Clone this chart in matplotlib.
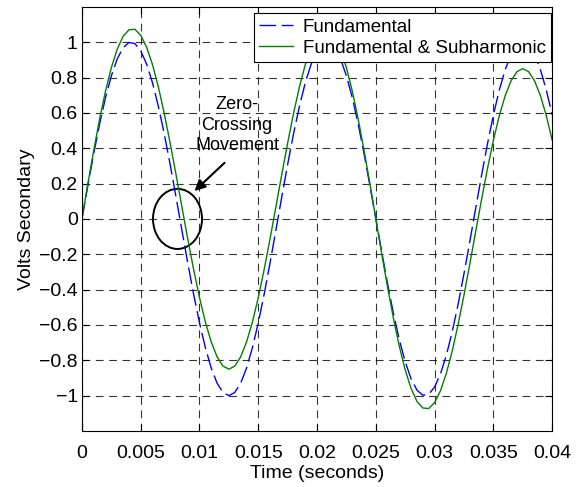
import numpy as np
import matplotlib.pyplot as plt
import matplotlib.patches as mpatches

plt.rcParams['font.family'] = ['Liberation Sans', 'DejaVu Sans']

# czas co 0.5 ms
t = np.arange(81) * 0.0005

fundamental = [
    0.0, 0.187, 0.368, 0.536, 0.685, 0.809, 0.905, 0.969, 0.998, 0.992,
    0.951, 0.876, 0.771, 0.637, 0.482, 0.309, 0.125, -0.063, -0.249, -0.426,
    -0.588, -0.729, -0.844, -0.930, -0.982, -1.0, -0.982, -0.930, -0.844, -0.729,
    -0.588, -0.426, -0.249, -0.063, 0.125, 0.309, 0.482, 0.637, 0.771, 0.876,
    0.951, 0.992, 0.998, 0.969, 0.905, 0.809, 0.685, 0.536, 0.368, 0.187,
    0.0, -0.187, -0.368, -0.536, -0.685, -0.809, -0.905, -0.969, -0.998, -0.992,
    -0.951, -0.876, -0.771, -0.637, -0.482, -0.309, -0.125, 0.063, 0.249, 0.426,
    0.588, 0.729, 0.844, 0.930, 0.982, 1.0, 0.982, 0.930, 0.844, 0.729,
    0.588,
]

fund_sub = [
    0.0, 0.197, 0.387, 0.564, 0.722, 0.855, 0.960, 1.033, 1.070, 1.073,
    1.039, 0.972, 0.873, 0.747, 0.597, 0.430, 0.252, 0.069, -0.113, -0.286,
    -0.445, -0.584, -0.697, -0.781, -0.833, -0.850, -0.833, -0.781, -0.697, -0.584,
    -0.445, -0.286, -0.113, 0.069, 0.252, 0.430, 0.597, 0.747, 0.873, 0.972,
    1.039, 1.073, 1.070, 1.033, 0.960, 0.855, 0.722, 0.564, 0.387, 0.197,
    0.0, -0.197, -0.387, -0.564, -0.722, -0.855, -0.960, -1.033, -1.070, -1.073,
    -1.039, -0.972, -0.873, -0.747, -0.597, -0.430, -0.252, -0.069, 0.113, 0.286,
    0.445, 0.584, 0.697, 0.781, 0.833, 0.850, 0.833, 0.781, 0.697, 0.584,
    0.445,
]

xticks = [0, 0.005, 0.01, 0.015, 0.02, 0.025, 0.03, 0.035, 0.04]
xlabels = ['0', '0.005', '0.01', '0.015', '0.02', '0.025', '0.03', '0.035', '0.04']
yticks = [-1, -0.8, -0.6, -0.4, -0.2, 0, 0.2, 0.4, 0.6, 0.8, 1]
ylabels = ['\u22121', '\u22120.8', '\u22120.6', '\u22120.4', '\u22120.2', '0',
           '0.2', '0.4', '0.6', '0.8', '1']

fig = plt.figure(figsize=(5.77, 4.87), dpi=100)
ax = fig.add_axes([0.142, 0.115, 0.815, 0.871])

ax.plot(t, fundamental, color='blue', lw=1, dashes=(12, 4), label='Fundamental')
ax.plot(t, fund_sub, color='#008000', lw=1, label='Fundamental & Subharmonic')

ax.set_xlim(0, 0.04)
ax.set_ylim(-1.2, 1.2)
ax.set_xticks(xticks)
ax.set_xticklabels(xlabels)
ax.set_yticks(yticks)
ax.set_yticklabels(ylabels)
ax.tick_params(direction='in', top=True, right=True, length=5, labelsize=14)
ax.tick_params(axis='x', pad=10)
ax.tick_params(axis='y', pad=3)
ax.grid(True, color='k', linestyle=(0, (7, 5)), lw=0.8, alpha=0.8)
ax.set_xlabel('Time (seconds)', fontsize=14, labelpad=2)
ax.set_ylabel('Volts Secondary', fontsize=14, labelpad=3)

# kółko i strzałka
ell = mpatches.Ellipse((0.00813, 0.0), 0.00417, 0.34, fill=False, ec='k', lw=1.4)
ax.add_patch(ell)
ax.text(0.0132, 0.53, 'Zero-\nCrossing\nMovement', ha='center', va='center',
        fontsize=13, linespacing=1.25)
ax.annotate('', xy=(0.0094, 0.147), xytext=(0.0123, 0.328),
            arrowprops=dict(arrowstyle='-|>', color='k', lw=1.5, mutation_scale=16))

leg = ax.legend(loc='upper right', bbox_to_anchor=(0.998, 0.985), fontsize=13.5,
                fancybox=False, edgecolor='k', framealpha=1, handlelength=1.8,
                borderaxespad=0, borderpad=0.3, labelspacing=0.2, handletextpad=0.5)
leg.get_frame().set_linewidth(0.8)

plt.savefig('out.png')
